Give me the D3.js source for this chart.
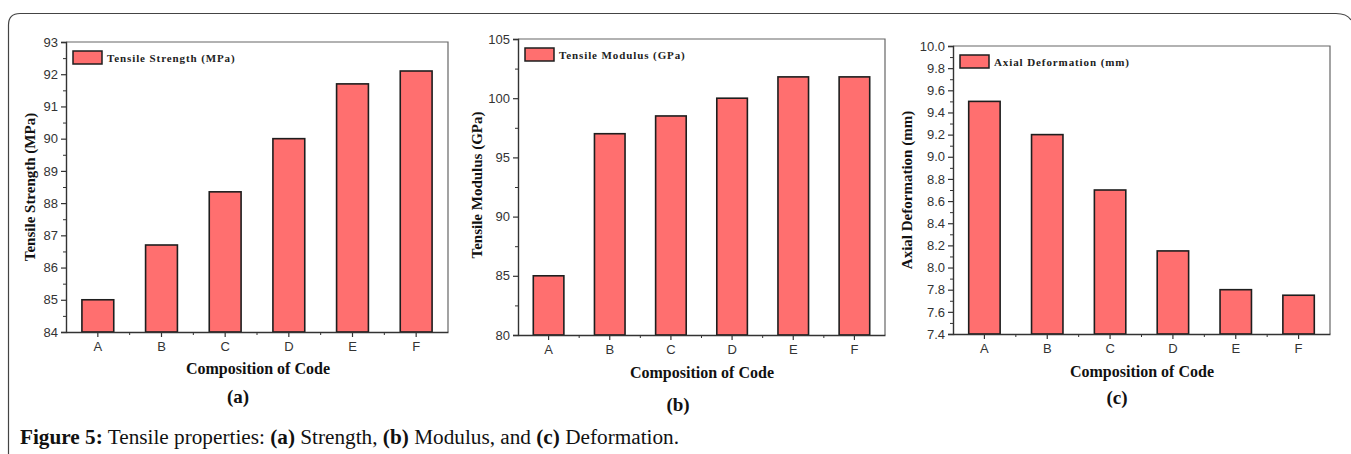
<!DOCTYPE html>
<html>
<head>
<meta charset="utf-8">
<script src="https://cdn.jsdelivr.net/npm/d3@7"></script>
<style>
  html, body { margin: 0; padding: 0; background: #fff; }
  svg { display: block; }
</style>
</head>
<body>
<svg id="fig" width="1351" height="454"></svg>
<script>
// data
const codes = ['A', 'B', 'C', 'D', 'E', 'F'];
const strength = [85, 86.7, 88.35, 90, 91.7, 92.1];
const modulus = [85, 97, 98.5, 100, 101.8, 101.8];
const deformation = [9.5, 9.2, 8.7, 8.15, 7.8, 7.75];

const xTitle = 'Composition of Code';
const caption = [
  { t: 'Figure 5:', b: true }, { t: ' Tensile properties: ', b: false },
  { t: '(a)', b: true }, { t: ' Strength, ', b: false },
  { t: '(b)', b: true }, { t: ' Modulus, and ', b: false },
  { t: '(c)', b: true }, { t: ' Deformation.', b: false }
];

const svg = d3.select('#fig');
const serif = '"Liberation Serif", "Times New Roman", serif';
const sans = '"Liberation Sans", Arial, sans-serif';

// outer frame (rounded, open at the bottom)
svg.append('path')
  .attr('d', 'M8.5,454 L8.5,25 Q8.5,13.5 20,13.5 L1336,13.5 Q1347,13.5 1351,20')
  .attr('fill', 'none')
  .attr('stroke', '#444')
  .attr('stroke-width', 1.2);

const panels = [
  { values: strength, legend: 'Tensile Strength (MPa)', yLabel: 'Tensile Strength (MPa)', tag: '(a)',
    box: { l: 66, t: 42, r: 448, b: 332 }, domain: [84, 93], step: 1, fmt: d3.format('d'),
    yTitleX: 35, yTitleY: 187, xTitleX: 258, xTitleY: 374, tagX: 238, tagY: 403 },
  { values: modulus, legend: 'Tensile Modulus (GPa)', yLabel: 'Tensile Modulus (GPa)', tag: '(b)',
    box: { l: 518, t: 39, r: 885, b: 335 }, domain: [80, 105], step: 5, fmt: d3.format('d'),
    yTitleX: 482, yTitleY: 185, xTitleX: 702, xTitleY: 378, tagX: 678, tagY: 411 },
  { values: deformation, legend: 'Axial Deformation (mm)', yLabel: 'Axial Deformation (mm)', tag: '(c)',
    box: { l: 953, t: 46, r: 1330, b: 334 }, domain: [7.4, 10.0], step: 0.2, fmt: d3.format('.1f'),
    yTitleX: 912, yTitleY: 190, xTitleX: 1142, xTitleY: 377, tagX: 1117, tagY: 404 }
];

panels.forEach(p => {
  const { l, t, r, b } = p.box;
  const x = d3.scaleBand().domain(codes).range([l, r]).padding(0.5).paddingOuter(0.25);
  const y = d3.scaleLinear().domain(p.domain).range([b, t]);

  const n = Math.round((p.domain[1] - p.domain[0]) / p.step);
  const major = d3.range(n + 1).map(i => +(p.domain[0] + i * p.step).toFixed(3));
  const minor = d3.range(n).map(i => +(p.domain[0] + (i + 0.5) * p.step).toFixed(3));

  const g = svg.append('g');

  // top and right frame
  g.append('path')
    .attr('d', `M${l},${t} H${r} V${b}`)
    .attr('fill', 'none').attr('stroke', '#666').attr('stroke-width', 1.2);

  // bars
  g.selectAll('rect.bar')
    .data(p.values)
    .enter()
    .append('rect')
    .attr('class', 'bar')
    .attr('x', (d, i) => x(codes[i]))
    .attr('y', d => y(d))
    .attr('width', x.bandwidth())
    .attr('height', d => b - y(d))
    .attr('fill', '#ff6f6f')
    .attr('stroke', '#1e1e1e')
    .attr('stroke-width', 1.6);

  // y axis
  const ya = g.append('g')
    .attr('transform', `translate(${l},0)`)
    .call(d3.axisLeft(y).tickValues(major).tickFormat(p.fmt).tickSize(5).tickPadding(3));
  ya.select('.domain').attr('stroke', '#333').attr('stroke-width', 1.4);
  ya.selectAll('.tick line').attr('stroke', '#333').attr('stroke-width', 1.2);
  ya.selectAll('.tick text').attr('fill', '#333').style('font-family', sans).style('font-size', '13px');
  g.append('g')
    .attr('transform', `translate(${l},0)`)
    .call(d3.axisLeft(y).tickValues(minor).tickFormat('').tickSize(3))
    .call(s => s.select('.domain').remove())
    .selectAll('.tick line').attr('stroke', '#333');

  // x axis
  const xa = g.append('g')
    .attr('transform', `translate(0,${b})`)
    .call(d3.axisBottom(x).tickSize(5).tickPadding(5).tickSizeOuter(0));
  xa.select('.domain').attr('stroke', '#333').attr('stroke-width', 1.4);
  xa.selectAll('.tick line').attr('stroke', '#333').attr('stroke-width', 1.2);
  xa.selectAll('.tick text').attr('fill', '#333').style('font-family', sans).style('font-size', '13px');
  g.selectAll('line.xminor')
    .data(codes.slice(1))
    .enter()
    .append('line')
    .attr('x1', d => x(d) - x.step() * 0.25).attr('x2', d => x(d) - x.step() * 0.25)
    .attr('y1', b).attr('y2', b + 3)
    .attr('stroke', '#333');

  // legend
  g.append('rect')
    .attr('x', l + 7).attr('y', t + 9)
    .attr('width', 29).attr('height', 13)
    .attr('fill', '#ff6f6f').attr('stroke', '#1e1e1e').attr('stroke-width', 1.5);
  g.append('text')
    .attr('x', l + 41).attr('y', t + 19.5)
    .attr('fill', '#222')
    .style('font-family', serif).style('font-weight', 'bold')
    .style('font-size', '11px').style('letter-spacing', '0.9px')
    .text(p.legend);

  // titles
  g.append('text')
    .attr('transform', `translate(${p.yTitleX},${p.yTitleY}) rotate(-90)`)
    .attr('text-anchor', 'middle')
    .attr('fill', '#111')
    .style('font-family', serif).style('font-weight', 'bold').style('font-size', '15px')
    .text(p.yLabel);
  g.append('text')
    .attr('x', p.xTitleX).attr('y', p.xTitleY)
    .attr('text-anchor', 'middle')
    .attr('fill', '#111')
    .style('font-family', serif).style('font-weight', 'bold').style('font-size', '16px')
    .text(xTitle);
  g.append('text')
    .attr('x', p.tagX).attr('y', p.tagY)
    .attr('text-anchor', 'middle')
    .attr('fill', '#111')
    .style('font-family', serif).style('font-weight', 'bold').style('font-size', '19px')
    .text(p.tag);
});

// caption
const cap = svg.append('text')
  .attr('x', 20).attr('y', 444)
  .attr('fill', '#111')
  .attr('textLength', 659)
  .attr('lengthAdjust', 'spacingAndGlyphs')
  .style('font-family', serif).style('font-size', '20px');
cap.selectAll('tspan')
  .data(caption)
  .enter()
  .append('tspan')
  .style('font-weight', d => d.b ? 'bold' : 'normal')
  .text(d => d.t);
</script>
</body>
</html>
